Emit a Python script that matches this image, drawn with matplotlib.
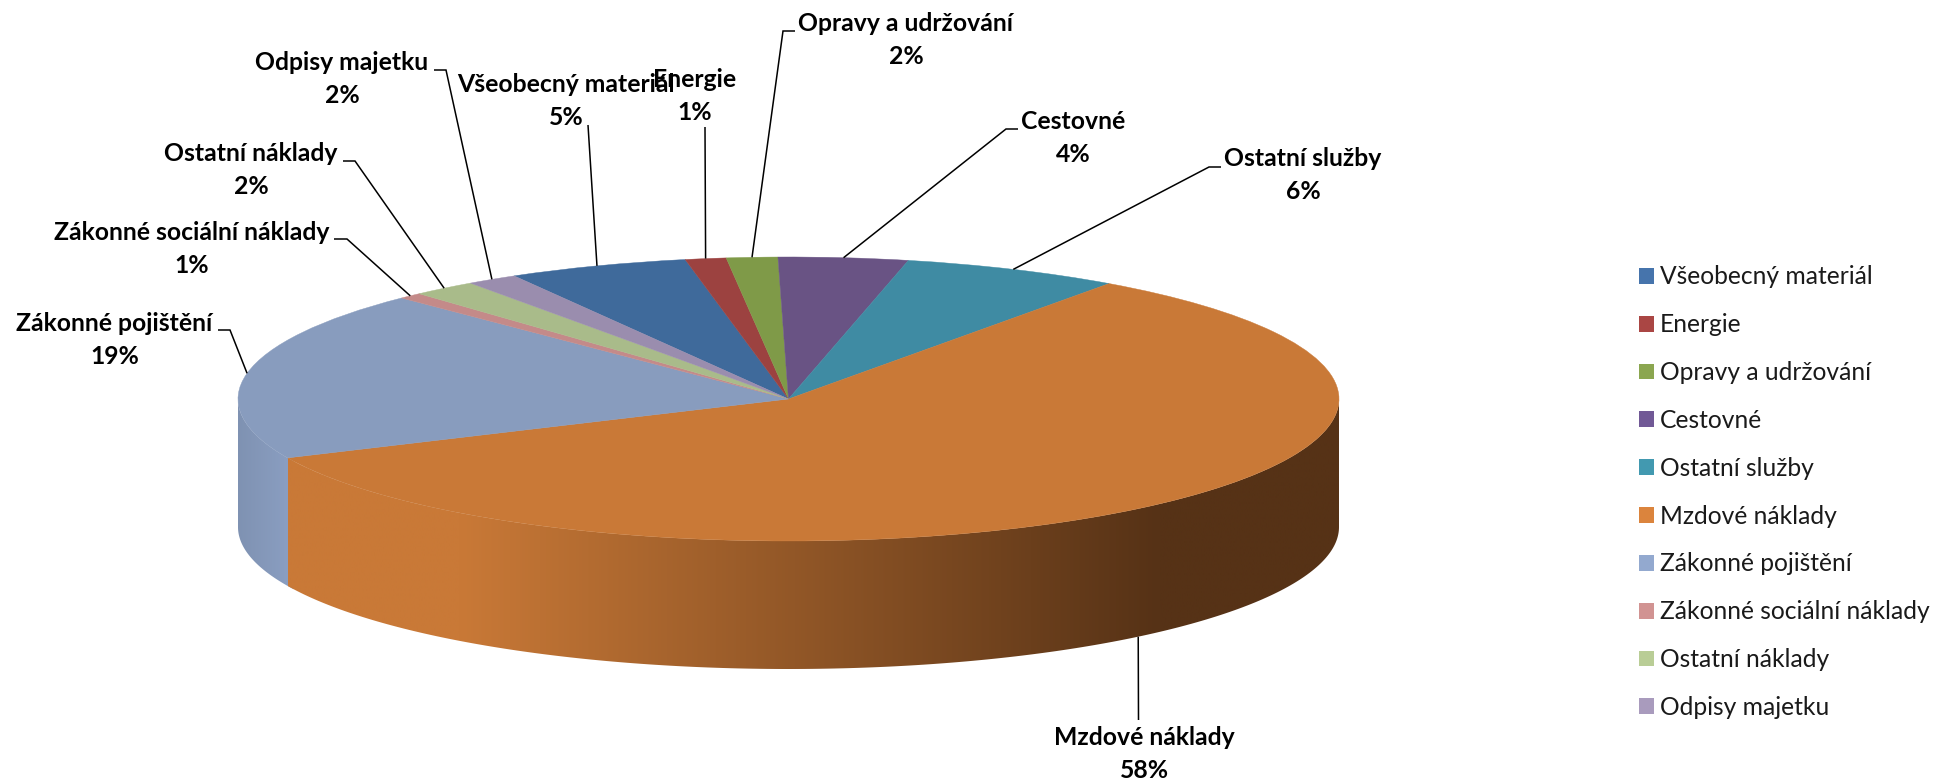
import numpy as np
import matplotlib
matplotlib.use("Agg")
import matplotlib.pyplot as plt
from matplotlib.patches import Patch, Polygon

plt.rcParams["font.family"] = ["Lato", "DejaVu Sans"]

# Data
categories = ["Všeobecný materiál", "Energie", "Opravy a udržování", "Cestovné",
              "Ostatní služby", "Mzdové náklady", "Zákonné pojištění",
              "Zákonné sociální náklady", "Ostatní náklady", "Odpisy majetku"]
values = [5.3, 1.2, 1.5, 3.8, 6.4, 58.3, 19.4, 0.7, 1.9, 1.5]

# Colours
top_colors = ["#3F6A9B", "#9C4240", "#7F9A48", "#695384", "#3F8BA3",
              "#C97937", "#889CBE", "#C48A89", "#A9BB8A", "#9A8DAE"]
legend_colors = ["#4674AC", "#AA4644", "#8BA650", "#715996", "#4299B0",
                 "#DB843D", "#93A9CF", "#D19392", "#B9CD96", "#A99BBD"]

# Layout, in pixels of the 1934x781 picture
W, H = 1934, 781
CX, CY, RX, RY = 788.5, 399.0, 550.5, 142.0
WALL = 128.0
START_ANGLE = 119.9

# label centre (x, y) and knee of the leader line, per category
label_pos = [(566, 101), (695, 96), (906, 40), (1073, 138), (1303, 175),
             (1144.6, 754), (114.5, 340), (192, 249), (251, 170), (342, 79)]
leader_start = [(588, 125), (705, 127), (795, 31), (1018, 129), (1221, 167),
                (1138.5, 720), (218, 330), (334, 239), (343, 161), (434, 70)]
leader_knee = [None, None, (783, 31), (1006, 129), (1209, 167),
               None, (230, 330), (347, 239), (355, 161), (446, 70)]


def wall_gradient(ax, a_from, a_to, stops_x, stops_c):
    """Side wall of the cake between two angles, shaded left to right."""
    t = np.radians(np.linspace(a_from, a_to, 200))
    xs = np.cos(t)
    ys = np.sin(t)
    depth = WALL / RY
    poly = Polygon(np.r_[np.c_[xs, ys], np.c_[xs[::-1], ys[::-1] - depth]],
                   closed=True, transform=ax.transData, facecolor="none",
                   edgecolor="none")
    ax.add_patch(poly)
    col_px = np.linspace(xs.min(), xs.max(), 500) * RX + CX
    rgb = np.array([matplotlib.colors.to_rgb(c) for c in stops_c])
    img = np.stack([np.interp(col_px, stops_x, rgb[:, i]) for i in range(3)], axis=-1)
    im = ax.imshow(img[np.newaxis, :, :], extent=[xs.min(), xs.max(), -1 - depth, 1],
                   aspect="auto", zorder=0.5, interpolation="bilinear")
    im.set_clip_path(poly)


fig = plt.figure(figsize=(W / 100, H / 100), dpi=100, facecolor="white")
ax = fig.add_axes([(CX - RX) / W, (H - CY - RY - WALL) / H, 2 * RX / W, (2 * RY + WALL) / H])

wedges, _ = ax.pie(values, colors=top_colors, startangle=START_ANGLE, counterclock=False,
                   radius=1, wedgeprops={"linewidth": 0.3})
for w in wedges:
    w.set_edgecolor(w.get_facecolor())
    w.set_zorder(2)

# Angles of the slice edges, counted the way the pie draws them
edges = START_ANGLE - np.r_[0, np.cumsum(values)] / np.sum(values) * 360
mids = (edges[:-1] + edges[1:]) / 2
split = edges[categories.index("Zákonné pojištění")] + 360

# blue wall runs a little under the orange one so no seam shows
wall_gradient(ax, 180, split + 1.5, [238, 288], ["#7F92B2", "#8A9EC1"])
wall_gradient(ax, split, 360, [288, 460, 1158, 1339],
              ["#C97937", "#C97937", "#563216", "#563216"])

ax.set_aspect("auto")
ax.set_xlim(-1, 1)
ax.set_ylim(-1 - WALL / RY, 1)

# Overlay in picture pixels for labels and leader lines
over = fig.add_axes([0, 0, 1, 1], facecolor="none", zorder=5)
over.set_xlim(0, W)
over.set_ylim(H, 0)
over.axis("off")

for i, name in enumerate(categories):
    a = np.radians(mids[i])
    ex = CX + RX * np.cos(a)
    ey = CY - RY * np.sin(a)
    if np.sin(a) < 0:
        ey += WALL
    pts = [leader_start[i]] + ([leader_knee[i]] if leader_knee[i] else []) + [(ex, ey)]
    over.plot([p[0] for p in pts], [p[1] for p in pts], color="black", lw=1.1,
              solid_capstyle="butt", solid_joinstyle="miter")
    over.text(label_pos[i][0], label_pos[i][1], f"{name}\n{round(values[i])}%",
              ha="center", va="center", fontsize=17.8, fontweight="bold",
              linespacing=1.5, color="black")

handles = [Patch(facecolor=c, edgecolor="none") for c in legend_colors]
fig.legend(handles, categories, loc="upper left", bbox_to_anchor=(1639 / W, 1 - 265.5 / H),
           frameon=False, fontsize=17.7, borderpad=0, borderaxespad=0,
           handlelength=0.61, handleheight=0.61, handletextpad=0.25, labelspacing=1.01,
           labelcolor="#1a1a1a")

fig.savefig("out.png", dpi=100)
